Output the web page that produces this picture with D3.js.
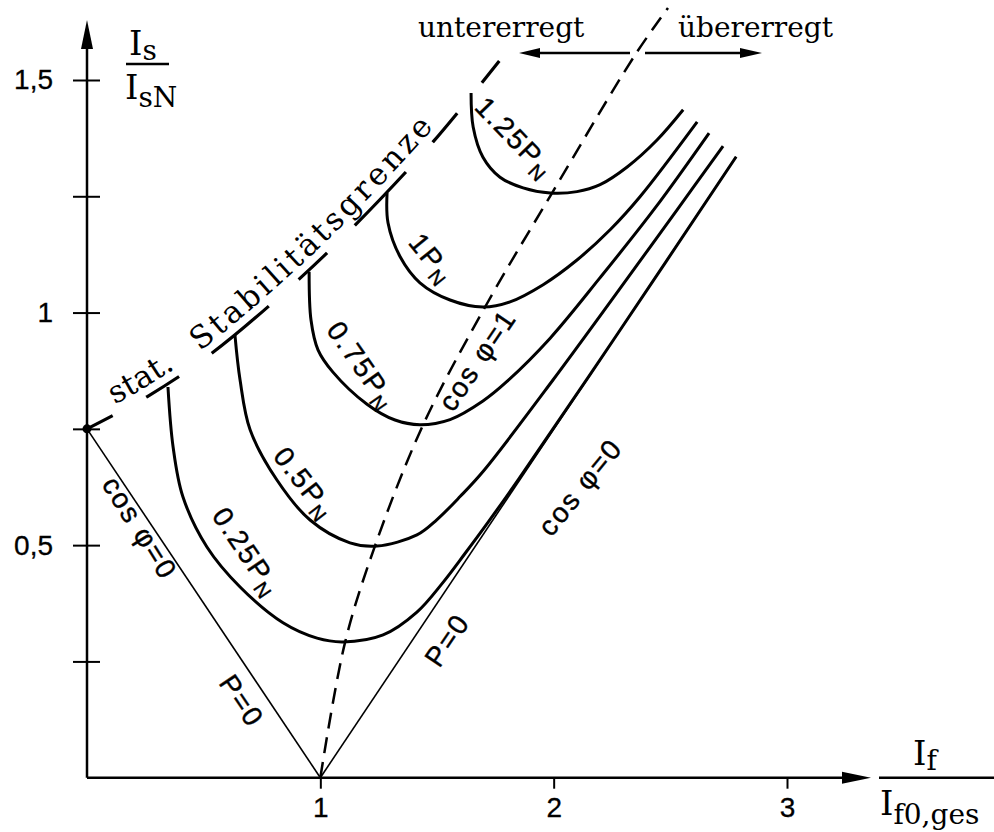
<!DOCTYPE html>
<html>
<head>
<meta charset="utf-8">
<script src="https://cdn.jsdelivr.net/npm/d3@7"></script>
<style>
  html, body { margin: 0; padding: 0; background: #fff; }
  svg { display: block; }
  .serif { font-family: "DejaVu Serif", serif; }
  .sans  { font-family: "Liberation Sans", "DejaVu Sans", sans-serif; }
</style>
</head>
<body>
<svg id="chart" width="994" height="832"></svg>
<script>
// V-curves of a synchronous machine: stator current Is/IsN over field current If/If0,ges
// for constant active power, with the static stability limit and the cos φ = 1 line.

const xTickValues = [1, 2, 3];
const xTickLabels = ["1", "2", "3"];
const yTickValues = [0.25, 0.5, 0.75, 1, 1.25, 1.5];
const yTickLabels = ["", "0,5", "", "1", "", "1,5"];

// constant-power curves [If, Is]
const curveP025 = [[0.347,0.840],[0.369,0.711],[0.411,0.604],[0.514,0.496],[0.656,0.410],[0.840,0.333],
                   [0.986,0.300],[1.097,0.292],[1.269,0.307],[1.414,0.356],[1.526,0.420],[1.62,0.482],
                   [1.72,0.550],[1.85,0.642],[2.256,0.941],[2.782,1.335]];
const curveP050 = [[0.634,0.952],[0.656,0.855],[0.699,0.748],[0.814,0.640],[0.956,0.554],[1.127,0.505],
                   [1.243,0.498],[1.414,0.522],[1.50,0.555],[1.60,0.605],[1.70,0.660],[1.997,0.855],
                   [2.529,1.221],[2.726,1.358]];
const curveP075 = [[0.952,1.088],[0.960,0.984],[0.990,0.920],[1.054,0.872],[1.200,0.803],[1.320,0.769],
                   [1.427,0.759],[1.556,0.770],[1.697,0.810],[1.800,0.852],[1.985,0.945],[2.199,1.075],
                   [2.435,1.225],[2.666,1.386]];
const curveP100 = [[1.286,1.257],[1.290,1.193],[1.342,1.120],[1.427,1.064],[1.556,1.027],[1.697,1.012],
                   [1.813,1.023],[1.955,1.060],[2.100,1.113],[2.242,1.178],[2.370,1.249],[2.615,1.410]];
const curveP125 = [[1.646,1.472],[1.655,1.399],[1.697,1.334],[1.770,1.291],[1.869,1.268],[1.985,1.257],
                   [2.100,1.260],[2.199,1.275],[2.315,1.313],[2.443,1.371],[2.555,1.436]];

// P = 0 (cos φ = 0) lines
const lineP0Under = [[0, 0.75], [1, 0]];
const lineP0Over  = [[1, 0], [2.782, 1.335]];

// cos φ = 1 line through the curve minima
const cosPhi1 = [[1,0],[1.106,0.291],[1.234,0.498],[1.440,0.758],[1.706,1.012],[1.993,1.257],
                 [2.349,1.554],[2.490,1.655]];

// static stability limit
const stabilityLimit = [[0,0.75],[0.257,0.819],[0.536,0.913],[0.909,1.072],[1.149,1.188],
                        [1.483,1.367],[1.770,1.543]];

const powerLabels = ["0.25P", "0.5P", "0.75P", "1P", "1.25P"];

const svg = d3.select("#chart");
const x = d3.scaleLinear().domain([0, 3]).range([87, 787]);
const y = d3.scaleLinear().domain([0, 1.5]).range([777.7, 80]);

const smooth = d3.line().x(d => x(d[0])).y(d => y(d[1])).curve(d3.curveCatmullRom.alpha(0.5));
const straight = d3.line().x(d => x(d[0])).y(d => y(d[1]));

// ---- axes ----
const axisG = svg.append("g");
const xAxis = d3.axisBottom(x).tickValues(xTickValues).tickFormat((d, i) => xTickLabels[i]).tickSize(11).tickPadding(8);
const gx = axisG.append("g").attr("transform", `translate(0,${y(0)})`).call(xAxis);
gx.select(".domain").remove();
gx.selectAll(".tick line").attr("stroke", "#000").attr("stroke-width", 2);
gx.selectAll(".tick text").attr("class", "sans").attr("font-size", 28).attr("fill", "#000")
  .attr("stroke", "#000").attr("stroke-width", 0.3);

const yAxis = d3.axisLeft(y).tickValues(yTickValues).tickFormat((d, i) => yTickLabels[i]).tickSize(14).tickPadding(20);
const gy = axisG.append("g").attr("transform", `translate(${x(0)},0)`).call(yAxis);
gy.select(".domain").remove();
gy.selectAll(".tick line").attr("x2", -14).attr("x1", 13).attr("stroke", "#000").attr("stroke-width", 2);
gy.selectAll(".tick text").attr("class", "sans").attr("font-size", 28).attr("fill", "#000")
  .attr("stroke", "#000").attr("stroke-width", 0.3);

// axis lines with arrow heads
axisG.append("line").attr("x1", x(0)).attr("y1", y(0)).attr("x2", 848).attr("y2", y(0))
  .attr("stroke", "#000").attr("stroke-width", 2.5);
axisG.append("path").attr("d", `M842,${y(0) - 6}L871,${y(0)}L842,${y(0) + 6}Z`).attr("fill", "#000");
axisG.append("line").attr("x1", x(0)).attr("y1", y(0)).attr("x2", x(0)).attr("y2", 44)
  .attr("stroke", "#000").attr("stroke-width", 2.5);
axisG.append("path").attr("d", `M${x(0) - 6},49L${x(0)},20L${x(0) + 6},49Z`).attr("fill", "#000");

// axis titles as fractions
const yt = svg.append("g").attr("class", "serif").attr("fill", "#000");
const ytn = yt.append("text").attr("x", 129).attr("y", 55).attr("font-size", 34);
ytn.append("tspan").text("I");
ytn.append("tspan").attr("font-size", 28).attr("dy", 5).text("s");
yt.append("line").attr("x1", 126).attr("x2", 169).attr("y1", 64).attr("y2", 64).attr("stroke", "#000").attr("stroke-width", 2.5);
const ytd = yt.append("text").attr("x", 125).attr("y", 99).attr("font-size", 34);
ytd.append("tspan").text("I");
ytd.append("tspan").attr("font-size", 28).attr("dy", 8).text("sN");

const xt = svg.append("g").attr("class", "serif").attr("fill", "#000");
xt.append("line").attr("x1", 879).attr("x2", 994).attr("y1", y(0)).attr("y2", y(0)).attr("stroke", "#000").attr("stroke-width", 2.5);
const xtn = xt.append("text").attr("x", 913).attr("y", 765).attr("font-size", 34);
xtn.append("tspan").text("I");
xtn.append("tspan").attr("font-size", 28).attr("dy", 5).text("f");
const xtd = xt.append("text").attr("x", 880).attr("y", 815).attr("font-size", 34);
xtd.append("tspan").text("I");
xtd.append("tspan").attr("font-size", 28).attr("dy", 9).text("f0,ges");

// ---- lines ----
const lines = svg.append("g").attr("fill", "none").attr("stroke", "#000");
lines.append("path").attr("d", straight(lineP0Under)).attr("stroke-width", 1.6);
lines.append("path").attr("d", straight(lineP0Over)).attr("stroke-width", 1.6);

[curveP025, curveP050, curveP075, curveP100, curveP125].forEach(c => {
  lines.append("path").attr("d", smooth(c)).attr("stroke-width", 3).attr("stroke-linejoin", "round");
});

lines.append("path").attr("d", smooth(cosPhi1)).attr("stroke-width", 2.5).attr("stroke-dasharray", "16,9");

lines.append("path").attr("id", "stabPath").attr("d", smooth(stabilityLimit))
  .attr("stroke-width", 3.2)
  .attr("stroke-dasharray", "29,38,39,40,74,40,39,39,74,40,38,39,28,400");
svg.append("circle").attr("cx", x(0)).attr("cy", y(0.75)).attr("r", 4.5).attr("fill", "#000");

// ---- labels ----
const lbl = svg.append("g").attr("fill", "#000");

// text along the stability limit, spaced out to a given run length
function pathText(str, offset, target) {
  const t = lbl.append("text").attr("class", "serif").attr("font-size", 31).attr("dy", -9);
  t.append("textPath").attr("href", "#stabPath").attr("startOffset", offset).text(str);
  const len = t.node().getComputedTextLength();
  t.attr("letter-spacing", (target - len) / str.length);
}
pathText("stat.", 36, 72);
pathText("Stabilitätsgrenze", 138, 330);

function rotLabel(str, sub, px, py, angle, size) {
  const t = lbl.append("text").attr("class", "sans").attr("font-size", size)
    .attr("letter-spacing", 2).attr("stroke", "#000").attr("stroke-width", 0.4)
    .attr("text-anchor", "middle").attr("dy", "0.35em")
    .attr("transform", `translate(${x(px)},${y(py)}) rotate(${angle})`);
  t.append("tspan").text(str);
  if (sub) t.append("tspan").attr("font-size", size * 0.72).attr("dy", 6).text(sub);
}
const labelSpots = [[0.686, 0.486, 56], [0.934, 0.634, 52], [1.179, 0.887, 55], [1.479, 1.117, 51], [1.834, 1.377, 46]];
powerLabels.forEach((s, i) => rotLabel(s, "N", labelSpots[i][0], labelSpots[i][1], labelSpots[i][2], 28));
rotLabel("cos φ=1", null, 1.672, 0.898, -56, 28);
rotLabel("cos φ=0", null, 2.113, 0.625, -51, 28);
rotLabel("cos φ=0", null, 0.227, 0.537, 58, 28);
rotLabel("P=0", null, 0.664, 0.165, 56, 28);
rotLabel("P=0", null, 1.543, 0.296, -56, 28);

// excitation region arrows
const regionG = svg.append("g");
regionG.append("text").attr("class", "serif").attr("font-size", 28).attr("x", 418).attr("y", 37).text("untererregt");
regionG.append("text").attr("class", "serif").attr("font-size", 28).attr("x", 678).attr("y", 37).text("übererregt");
regionG.append("line").attr("x1", 630).attr("x2", 535).attr("y1", 53).attr("y2", 53).attr("stroke", "#000").attr("stroke-width", 2.5);
regionG.append("path").attr("d", "M540,48L519,53L540,58Z").attr("fill", "#000");
regionG.append("line").attr("x1", 645).attr("x2", 745).attr("y1", 53).attr("y2", 53).attr("stroke", "#000").attr("stroke-width", 2.5);
regionG.append("path").attr("d", "M740,48L762,53L740,58Z").attr("fill", "#000");
</script>
</body>
</html>
